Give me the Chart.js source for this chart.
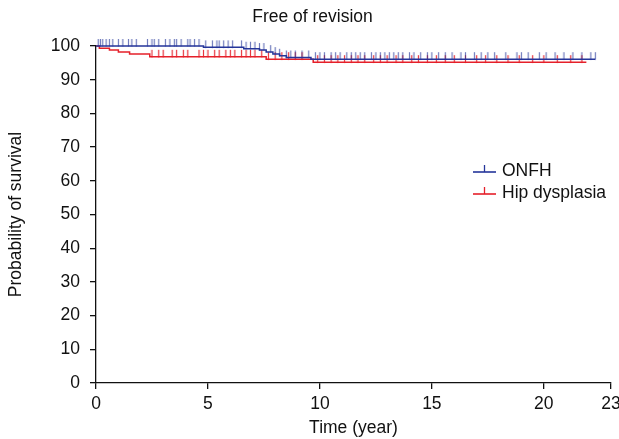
<!DOCTYPE html>
<html><head><meta charset="utf-8">
<script src="https://cdn.jsdelivr.net/npm/chart.js@4/dist/chart.umd.min.js"></script>
<style>html,body{margin:0;padding:0;background:#fff}#wrap{width:619px;height:439px}</style>
</head><body><div id="wrap"><canvas id="c" width="619" height="439"></canvas></div>
<script>
const titleText = "Free of revision";
const xTitle = "Time (year)";
const yTitle = "Probability of survival";
const xTicks = [0, 5, 10, 15, 20, 23];
const yTicks = [0,10,20,30,40,50,60,70,80,90,100];
const seriesNames = ["ONFH", "Hip dysplasia"];

// Kaplan-Meier step points (time in years, survival % after the step)
const onfhTimes = [0, 4.8, 6.6, 7.3, 7.6, 7.9, 8.2, 8.5, 9.6, 22.3];
const onfhSurv  = [100, 99.6, 99.2, 98.8, 98.2, 97.6, 97.1, 96.6, 96.1, 96.1];
const hipTimes  = [0, 0.15, 0.6, 1.0, 1.5, 2.4, 7.6, 9.7, 21.9];
const hipSurv   = [100, 99.3, 98.8, 98.2, 97.6, 96.8, 96.1, 95.2, 95.2];

// censoring times
const onfhCensor = [0.1,0.2,0.3,0.45,0.6,0.75,1.0,1.2,1.45,1.6,1.8,2.3,2.5,2.6,2.8,3.1,3.3,3.5,3.6,3.8,4.1,4.2,4.4,4.6,4.9,5.2,5.4,5.5,5.7,5.9,6.1,6.5,6.7,6.9,7.1,7.3,7.5,7.8,8.0,8.2,8.5,8.7,8.9,9.2,9.5,9.8,10.0,10.2,10.5,10.7,10.9,11.2,11.4,11.6,11.8,12.0,12.3,12.5,12.7,12.9,13.1,13.3,13.5,13.7,14.0,14.2,14.5,14.8,15.0,15.3,15.6,15.9,16.3,16.5,16.9,17.2,17.5,17.8,18.3,18.8,19.0,19.3,19.8,20.1,20.5,20.9,21.3,21.7,22.1,22.3];
const hipCensor = [2.5,2.8,3.0,3.4,3.6,3.9,4.1,4.6,4.8,5.0,5.3,5.5,5.8,6.0,6.2,6.5,6.7,6.9,7.1,7.4,7.7,8.0,8.3,8.6,8.9,9.2,9.9,10.2,10.5,10.8,11.1,11.4,11.7,12.0,12.4,12.7,13.0,13.4,13.7,14.1,14.4,14.8,15.2,15.6,16.0,16.5,17.0,17.4,17.9,18.4,18.9,19.5,20.0,20.6,21.2,21.7];

const blue = '#25359A';
const red = '#E5202A';

function stepPoints(ts, ss){ return ts.map((t,i)=>({x:t,y:ss[i]})); }
function survAt(ts, ss, t){ let v = ss[0]; for(let i=0;i<ts.length;i++){ if(ts[i] <= t) v = ss[i]; } return v; }
function censorPoints(cs, ts, ss){ return cs.map(t=>({x:t,y:survAt(ts,ss,t)})); }

function tickImg(color, alpha){
  const c = document.createElement('canvas');
  c.width = 3; c.height = 16;
  const g = c.getContext('2d');
  g.globalAlpha = alpha;
  g.strokeStyle = color; g.lineWidth = 1.2;
  g.beginPath(); g.moveTo(1.5, 1); g.lineTo(1.5, 8.5); g.stroke();
  return c;
}

const fontFam = '"Liberation Sans", Arial, sans-serif';

const legendPlugin = {
  id: 'kmLegend',
  afterDraw(chart){
    const ctx = chart.ctx;
    const items = [{label: seriesNames[0], color: blue}, {label: seriesNames[1], color: red}];
    const x0 = chart.chartArea.left + 377;
    let y = chart.chartArea.top + 126;
    ctx.save();
    ctx.font = '17.5px ' + fontFam;
    ctx.textBaseline = 'middle';
    items.forEach(it => {
      ctx.strokeStyle = it.color; ctx.lineWidth = 1.6;
      ctx.beginPath(); ctx.moveTo(x0, y); ctx.lineTo(x0+23, y); ctx.stroke();
      ctx.lineWidth = 1.3;
      ctx.beginPath(); ctx.moveTo(x0+11.5, y); ctx.lineTo(x0+11.5, y-7); ctx.stroke();
      ctx.fillStyle = '#111';
      ctx.fillText(it.label, x0+29, y-1);
      y += 22;
    });
    ctx.restore();
  }
};

new Chart(document.getElementById('c'), {
  type: 'scatter',
  data: {
    datasets: [
      {label: seriesNames[1], data: stepPoints(hipTimes, hipSurv), showLine: true, stepped: 'before', borderColor: red, borderWidth: 1.5, pointRadius: 0, fill: false, clip: false, order: 3},
      {label: seriesNames[1]+' censored', data: censorPoints(hipCensor, hipTimes, hipSurv), showLine: false, pointStyle: tickImg(red, 0.9), pointRadius: 5, clip: false, order: 2},
      {label: seriesNames[0], data: stepPoints(onfhTimes, onfhSurv), showLine: true, stepped: 'before', borderColor: blue, borderWidth: 1.5, pointRadius: 0, fill: false, clip: false, order: 1},
      {label: seriesNames[0]+' censored', data: censorPoints(onfhCensor, onfhTimes, onfhSurv), showLine: false, pointStyle: tickImg(blue, 0.65), pointRadius: 5, clip: false, order: 0}
    ]
  },
  options: {
    responsive: false,
    animation: false,
    layout: {padding: {left: 6, right: 0, top: 0, bottom: 0}},
    plugins: {
      legend: {display: false},
      tooltip: {enabled: false},
      title: {display: true, text: titleText, color: '#111', font: {family: fontFam, size: 17.5, weight: 'normal'}, padding: {top: 7, bottom: 18}}
    },
    scales: {
      x: {
        type: 'linear', min: 0, max: 23,
        afterBuildTicks(s){ s.ticks = xTicks.map(v=>({value:v})); },
        ticks: {color: '#111', font: {family: fontFam, size: 17.5}, padding: 5, maxRotation: 0, autoSkip: false},
        grid: {display: true, drawOnChartArea: false, drawTicks: true, tickLength: 6, color: '#111', lineWidth: 1.3},
        border: {display: true, color: '#111', width: 1.3},
        title: {display: true, text: xTitle, color: '#111', font: {family: fontFam, size: 17.5}, padding: {top: 0, bottom: 0}},
        afterFit(s){ s.height = 56; s.paddingRight = 8; s.paddingLeft = 0; }
      },
      y: {
        type: 'linear', min: 0, max: 100,
        afterBuildTicks(s){ s.ticks = yTicks.map(v=>({value:v})); },
        ticks: {color: '#111', font: {family: fontFam, size: 17.5}, padding: 10},
        grid: {display: true, drawOnChartArea: false, drawTicks: true, tickLength: 6, color: '#111', lineWidth: 1.3},
        border: {display: true, color: '#111', width: 1.3},
        title: {display: true, text: yTitle, color: '#111', font: {family: fontFam, size: 17.5}, padding: {top: 0, bottom: 6}},
        afterFit(s){ s.width = 90; }
      }
    }
  },
  plugins: [legendPlugin]
});
</script></body></html>
